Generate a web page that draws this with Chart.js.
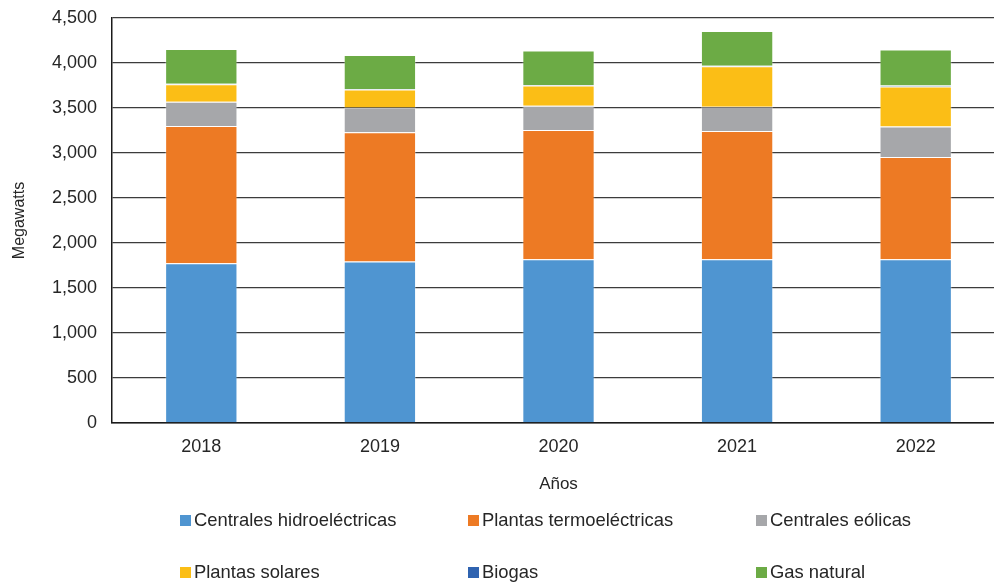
<!DOCTYPE html>
<html>
<head>
<meta charset="utf-8">
<script src="https://cdn.jsdelivr.net/npm/chart.js@4.4.1/dist/chart.umd.min.js"></script>
<style>
  html, body { margin: 0; padding: 0; background: #fff; overflow: hidden; }
  body { width: 994px; height: 582px; position: relative; font-family: "Liberation Sans", Arial, sans-serif; }
  #wrap { position: absolute; left: 0; top: 0; width: 1005px; height: 500px; }
  #legend { position: absolute; left: 0; top: 0; width: 994px; height: 582px; pointer-events: none; }
  .item { position: absolute; display: flex; align-items: center; font-size: 18.4px; color: #262626; white-space: nowrap; line-height: 22px; }
  .box { width: 11px; height: 11px; margin-right: 3px; }
</style>
</head>
<body>
<div id="wrap"><canvas id="chart"></canvas></div>
<div id="legend"></div>
<script>
// categories
const years = ['2018', '2019', '2020', '2021', '2022'];

// series values, megawatts
const hidro   = [1775, 1795, 1820, 1820, 1820];
const termo   = [1525, 1435, 1435, 1425, 1135];
const eolicas = [270, 275, 270, 270, 340];
const solares = [195, 200, 225, 450, 445];
const biogas  = [5, 5, 5, 5, 10];
const gas     = [385, 380, 385, 385, 400];

const seriesNames = ['Centrales hidroeléctricas', 'Plantas termoeléctricas', 'Centrales eólicas',
                     'Plantas solares', 'Biogas', 'Gas natural'];
const seriesColors = ['#4f95d1', '#ed7a24', '#a6a7aa', '#fbbe16', '#2f63b0', '#6cab45'];
const seriesData = [hidro, termo, eolicas, solares, biogas, gas];

const yTicks = [0, 500, 1000, 1500, 2000, 2500, 3000, 3500, 4000, 4500];

const datasets = seriesNames.map((name, i) => ({
    label: name,
    data: seriesData[i],
    backgroundColor: seriesColors[i],
    borderColor: 'rgba(255,255,255,0.3)',
    borderWidth: 1,
    barPercentage: 0.405,
    categoryPercentage: 1
}));

new Chart(document.getElementById('chart'), {
    type: 'bar',
    data: { labels: years, datasets },
    options: {
        responsive: true,
        maintainAspectRatio: false,
        animation: false,
        layout: { padding: { top: 18, right: 0, left: 0, bottom: 0 } },
        plugins: {
            legend: { display: false },
            tooltip: { enabled: false }
        },
        scales: {
            x: {
                stacked: true,
                grid: { display: false, drawTicks: false },
                border: { color: '#1a1a1a', width: 1.5 },
                ticks: {
                    padding: 13,
                    color: '#262626',
                    font: { family: 'Liberation Sans', size: 18 }
                },
                title: {
                    display: true,
                    text: 'Años',
                    color: '#262626',
                    font: { family: 'Liberation Sans', size: 17 },
                    padding: { top: 0, bottom: 5 }
                },
                afterFit: scale => { scale.height = 77; }
            },
            y: {
                stacked: true,
                min: 0,
                max: 4500,
                afterBuildTicks: scale => { scale.ticks = yTicks.map(v => ({ value: v })); },
                grid: { color: '#3c3c3c', lineWidth: 1.3, drawTicks: false },
                border: { color: '#1a1a1a', width: 1.5 },
                ticks: {
                    padding: 15,
                    color: '#262626',
                    font: { family: 'Liberation Sans', size: 18 },
                    callback: v => v.toLocaleString('en-US')
                },
                title: {
                    display: true,
                    text: 'Megawatts',
                    color: '#262626',
                    font: { family: 'Liberation Sans', size: 16 },
                    padding: { top: 10, bottom: 0 }
                },
                afterFit: scale => {
                    scale.width = 112;
                    scale.paddingTop = 0;
                    scale.paddingBottom = 0;
                }
            }
        }
    }
});

// legend, 3 columns x 2 rows
const legendEl = document.getElementById('legend');
const colX = [180, 468, 756];
const rowY = [509, 561];
seriesNames.forEach((name, i) => {
    const item = document.createElement('div');
    item.className = 'item';
    item.style.left = colX[i % 3] + 'px';
    item.style.top = rowY[Math.floor(i / 3)] + 'px';
    const box = document.createElement('span');
    box.className = 'box';
    box.style.background = seriesColors[i];
    const txt = document.createElement('span');
    txt.textContent = name;
    item.appendChild(box);
    item.appendChild(txt);
    legendEl.appendChild(item);
});
</script>
</body>
</html>
